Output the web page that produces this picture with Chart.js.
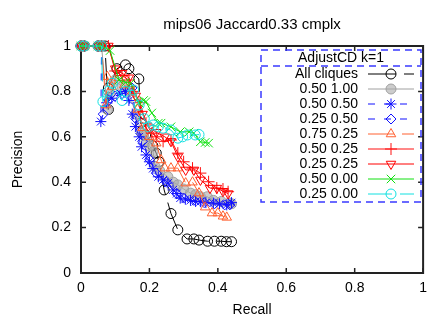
<!DOCTYPE html>
<html lang="en">
<head>
<meta charset="UTF-8">
<title>mips06 Jaccard0.33 cmplx</title>
<script src="https://cdn.jsdelivr.net/npm/chart.js@4"></script>
<style>
  body { margin: 0; background: #fff; }
  #wrap { width: 434px; height: 320px; }
</style>
</head>
<body>
<div id="wrap"><canvas id="prChart" width="434" height="320"></canvas></div>
<script>
// axis ticks
const xTicks = [0, 0.2, 0.4, 0.6, 0.8, 1];
const yTicks = [0, 0.2, 0.4, 0.6, 0.8, 1];

// series labels (legend order)
const labels = ['All cliques', '0.50 1.00', '0.50 0.50', '0.25 0.50', '0.75 0.25',
                '0.50 0.25', '0.25 0.25', '0.50 0.00', '0.25 0.00'];

// recall / precision
const recallAll = [0, 0.01, 0.05, 0.06, 0.07, 0.08, 0.08, 0.105, 0.13, 0.14, 0.169, 0.175, 0.189, 0.21, 0.22, 0.228, 0.243, 0.263, 0.283, 0.31, 0.33, 0.345, 0.37, 0.39, 0.41, 0.425, 0.44];
const precAll   = [1, 1, 1, 1, 1, 0.72, 0.815, 0.90, 0.917, 0.90, 0.855, 0.66, 0.608, 0.56, 0.528, 0.49, 0.366, 0.262, 0.19, 0.15, 0.15, 0.145, 0.14, 0.14, 0.14, 0.138, 0.138];

const recall5010 = [0, 0.01, 0.05, 0.06, 0.077, 0.085, 0.10, 0.12, 0.14, 0.16, 0.177, 0.183, 0.19, 0.2, 0.211, 0.216, 0.23, 0.254, 0.27, 0.283, 0.30, 0.32, 0.335, 0.349, 0.369, 0.387, 0.41, 0.434, 0.44];
const prec5010   = [1, 1, 1, 1, 0.72, 0.79, 0.85, 0.82, 0.80, 0.70, 0.617, 0.608, 0.58, 0.56, 0.534, 0.47, 0.45, 0.424, 0.40, 0.388, 0.37, 0.352, 0.345, 0.336, 0.336, 0.32, 0.315, 0.308, 0.305];

const recall5050 = [0, 0.01, 0.05, 0.06, 0.058, 0.075, 0.09, 0.116, 0.13, 0.14, 0.15, 0.159, 0.17, 0.177, 0.19, 0.2, 0.21, 0.226, 0.24, 0.254, 0.269, 0.28, 0.29, 0.305, 0.32, 0.335, 0.349, 0.365, 0.387, 0.405, 0.426, 0.44];
const prec5050   = [1, 1, 1, 1, 0.667, 0.75, 0.77, 0.79, 0.80, 0.76, 0.70, 0.645, 0.60, 0.556, 0.52, 0.49, 0.46, 0.424, 0.41, 0.396, 0.366, 0.35, 0.33, 0.325, 0.32, 0.315, 0.314, 0.31, 0.308, 0.305, 0.30, 0.31];

const recall2550 = [0, 0.01, 0.05, 0.06, 0.065, 0.08, 0.10, 0.12, 0.149, 0.16, 0.18, 0.20, 0.22, 0.25, 0.28, 0.30, 0.33, 0.36, 0.39, 0.42, 0.435];
const prec2550   = [1, 1, 1, 1, 0.70, 0.76, 0.78, 0.79, 0.815, 0.68, 0.58, 0.50, 0.44, 0.40, 0.35, 0.33, 0.32, 0.31, 0.305, 0.30, 0.30];

const recall7525 = [0, 0.01, 0.05, 0.06, 0.073, 0.077, 0.09, 0.11, 0.126, 0.15, 0.165, 0.18, 0.20, 0.22, 0.234, 0.245, 0.263, 0.283, 0.306, 0.326, 0.345, 0.363, 0.383, 0.40, 0.415, 0.426];
const prec7525   = [1, 1, 1, 1, 0.74, 0.865, 0.82, 0.86, 0.828, 0.80, 0.72, 0.64, 0.60, 0.572, 0.498, 0.462, 0.462, 0.462, 0.396, 0.40, 0.352, 0.29, 0.264, 0.264, 0.25, 0.245];

const recall5025 = [0, 0.01, 0.05, 0.06, 0.08, 0.10, 0.12, 0.14, 0.155, 0.173, 0.19, 0.207, 0.22, 0.24, 0.263, 0.283, 0.30, 0.326, 0.349, 0.373, 0.397, 0.415, 0.43];
const prec5025   = [1, 1, 1, 1, 1, 0.89, 0.87, 0.85, 0.80, 0.75, 0.66, 0.616, 0.60, 0.58, 0.586, 0.528, 0.49, 0.462, 0.44, 0.402, 0.374, 0.37, 0.358];

const recall2525 = [0, 0.01, 0.05, 0.06, 0.08, 0.10, 0.12, 0.14, 0.16, 0.18, 0.20, 0.22, 0.245, 0.263, 0.283, 0.306, 0.33, 0.349, 0.377, 0.397, 0.415, 0.43];
const prec2525   = [1, 1, 1, 1, 1, 0.90, 0.88, 0.86, 0.78, 0.70, 0.64, 0.62, 0.60, 0.58, 0.512, 0.454, 0.454, 0.41, 0.374, 0.374, 0.36, 0.35];

const recall5000 = [0, 0.01, 0.05, 0.06, 0.085, 0.111, 0.13, 0.145, 0.169, 0.183, 0.19, 0.207, 0.226, 0.234, 0.263, 0.29, 0.316, 0.33, 0.349, 0.363, 0.373];
const prec5000   = [1, 1, 1, 1, 0.98, 0.85, 0.84, 0.836, 0.75, 0.76, 0.755, 0.705, 0.66, 0.66, 0.644, 0.622, 0.622, 0.616, 0.578, 0.575, 0.572];

const recall2500 = [0, 0.01, 0.05, 0.06, 0.064, 0.08, 0.092, 0.12, 0.13, 0.154, 0.17, 0.185, 0.197, 0.211, 0.226, 0.24, 0.263, 0.283, 0.297, 0.311, 0.334, 0.345];
const prec2500   = [1, 1, 1, 1, 0.755, 0.80, 0.836, 0.76, 0.80, 0.806, 0.74, 0.68, 0.644, 0.652, 0.644, 0.638, 0.63, 0.594, 0.60, 0.608, 0.608, 0.61];

const recalls = [recallAll, recall5010, recall5050, recall2550, recall7525, recall5025, recall2525, recall5000, recall2500];
const precisions = [precAll, prec5010, prec5050, prec2550, prec7525, prec5025, prec2525, prec5000, prec2500];

// gnuplot-ish line/point styles
const styles = [
  {color: '#000000', dash: [28, 8], point: 'circle', radius: 5, fill: 'rgba(0,0,0,0)'},
  {color: '#a0a0a0', dash: [], point: 'circle', radius: 5, fill: 'rgba(170,170,170,0.6)'},
  {color: '#1010ff', dash: [7, 9], point: 'star', radius: 5.5, fill: 'rgba(0,0,0,0)'},
  {color: '#1010ff', dash: [7, 9], point: 'rectRot', radius: 5, fill: 'rgba(0,0,0,0)'},
  {color: '#ff6030', dash: [26, 8], point: 'triangle', radius: 5.5, fill: 'rgba(0,0,0,0)'},
  {color: '#ff1010', dash: [], point: 'cross', radius: 6, fill: 'rgba(0,0,0,0)'},
  {color: '#ff0000', dash: [], point: 'triangle', rotation: 180, radius: 5.5, fill: 'rgba(0,0,0,0)'},
  {color: '#10e010', dash: [], point: 'crossRot', radius: 6, fill: 'rgba(0,0,0,0)'},
  {color: '#10e0e0', dash: [24, 8], point: 'circle', radius: 5, fill: 'rgba(0,0,0,0)'}
];

const FONT = '"Liberation Sans", Arial, sans-serif';
Chart.defaults.font.family = FONT;
Chart.defaults.font.size = 14;
Chart.defaults.color = '#000';

const datasets = labels.map((label, i) => ({
  label: label,
  data: recalls[i].map((r, j) => ({x: r, y: precisions[i][j]})),
  showLine: true,
  borderColor: styles[i].color,
  backgroundColor: styles[i].fill,
  borderWidth: 1,
  borderDash: styles[i].dash,
  pointStyle: styles[i].point,
  pointRotation: styles[i].rotation || 0,
  pointRadius: styles[i].radius,
  pointBorderColor: styles[i].color,
  pointBackgroundColor: styles[i].fill,
  pointBorderWidth: 1,
  clip: false,
  order: labels.length - i
}));

// border box with inward ticks on all four sides
const frame = {
  id: 'frame',
  beforeDatasetsDraw(chart) {
    const {ctx, chartArea: a, scales: {x, y}} = chart;
    ctx.save();
    ctx.strokeStyle = '#222';
    ctx.lineWidth = 1.5;
    ctx.beginPath();
    xTicks.forEach(v => {
      const px = x.getPixelForValue(v);
      ctx.moveTo(px, a.bottom); ctx.lineTo(px, a.bottom - 5);
      ctx.moveTo(px, a.top); ctx.lineTo(px, a.top + 5);
    });
    yTicks.forEach(v => {
      const py = y.getPixelForValue(v);
      ctx.moveTo(a.left, py); ctx.lineTo(a.left + 5, py);
      ctx.moveTo(a.right, py); ctx.lineTo(a.right - 5, py);
    });
    ctx.stroke();
    ctx.lineWidth = 2;
    ctx.strokeRect(a.left, a.top, a.right - a.left, a.bottom - a.top);
    ctx.restore();
  }
};

function marker(ctx, st, x, y) {
  const opts = {pointStyle: st.point, rotation: st.rotation || 0, radius: st.radius, borderWidth: 1};
  ctx.fillStyle = st.fill;
  ctx.strokeStyle = st.color;
  ctx.lineWidth = 1;
  ctx.setLineDash([]);
  if (Chart.helpers && Chart.helpers.drawPoint) {
    Chart.helpers.drawPoint(ctx, opts, x, y);
  } else {
    ctx.beginPath(); ctx.arc(x, y, st.radius, 0, Math.PI * 2); ctx.fill(); ctx.stroke();
  }
}

// dashed key box like gnuplot's
const keyBox = {
  id: 'keyBox',
  afterDatasetsDraw(chart) {
    const ctx = chart.ctx;
    const left = 261, right = 421, top = 50, bottom = 202, head = 66;
    ctx.save();
    ctx.strokeStyle = '#3a3aff';
    ctx.lineWidth = 1.5;
    ctx.setLineDash([7, 5]);
    ctx.strokeRect(left, top, right - left, bottom - top);
    ctx.beginPath(); ctx.moveTo(left, head); ctx.lineTo(right, head); ctx.stroke();

    ctx.fillStyle = '#000';
    ctx.font = '14px ' + FONT;
    ctx.textBaseline = 'middle';
    ctx.textAlign = 'center';
    ctx.fillText('AdjustCD k=1', (left + right) / 2, 58);

    ctx.textAlign = 'right';
    labels.forEach((label, i) => {
      const yy = 74 + i * 15;
      const st = styles[i];
      ctx.fillStyle = '#000';
      ctx.fillText(label, 358, yy);
      ctx.strokeStyle = st.color;
      ctx.lineWidth = 1;
      ctx.setLineDash(st.dash);
      ctx.beginPath(); ctx.moveTo(368, yy); ctx.lineTo(414, yy); ctx.stroke();
      marker(ctx, st, 391, yy);
    });
    ctx.restore();
  }
};

new Chart(document.getElementById('prChart'), {
  type: 'scatter',
  data: {datasets: datasets},
  options: {
    responsive: false,
    animation: false,
    layout: {padding: {left: 0, right: 3, top: 0, bottom: 0}},
    plugins: {
      legend: {display: false},
      tooltip: {enabled: false},
      title: {
        display: true,
        text: 'mips06 Jaccard0.33 cmplx',
        fullSize: false,
        font: {size: 15, weight: 'normal'},
        color: '#000',
        padding: {top: 16, bottom: 12}
      }
    },
    scales: {
      x: {
        type: 'linear',
        min: 0, max: 1,
        afterBuildTicks: s => { s.ticks = xTicks.map(v => ({value: v})); },
        afterFit: s => { s.height = 47; },
        ticks: {padding: 7, callback: v => String(+v.toFixed(1))},
        grid: {display: false, drawTicks: false},
        border: {display: false},
        title: {display: true, text: 'Recall', padding: {top: 0, bottom: 1}}
      },
      y: {
        type: 'linear',
        min: 0, max: 1,
        afterBuildTicks: s => { s.ticks = yTicks.map(v => ({value: v})); },
        afterFit: s => { s.width = 81; },
        ticks: {padding: 10, callback: v => String(+v.toFixed(1))},
        grid: {display: false, drawTicks: false},
        border: {display: false},
        title: {display: true, text: 'Precision', padding: {top: 10, bottom: 0}}
      }
    }
  },
  plugins: [frame, keyBox]
});
</script>
</body>
</html>
